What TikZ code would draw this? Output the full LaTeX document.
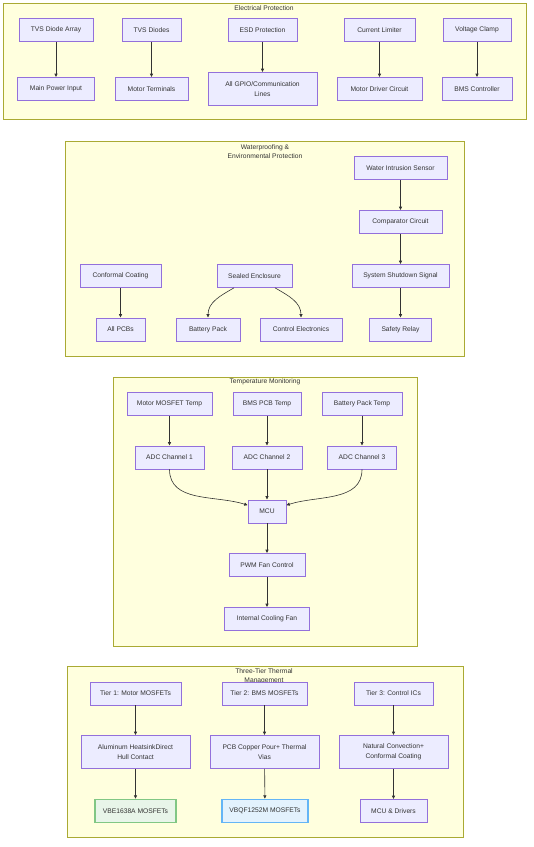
\documentclass[tikz,border=0pt]{standalone}
\usepackage{fontspec}
\setmainfont{Liberation Sans}
\usetikzlibrary{arrows.meta}
\definecolor{nfill}{HTML}{ECECFF}
\definecolor{nline}{HTML}{9370DB}
\definecolor{cfill}{HTML}{FFFFDE}
\definecolor{cline}{HTML}{AAAA33}
\definecolor{ink}{HTML}{333333}
\definecolor{gfill}{HTML}{E8F5E9}
\definecolor{gline}{HTML}{81C784}
\definecolor{bfill}{HTML}{E3F2FD}
\definecolor{bline}{HTML}{64B5F6}
\begin{document}
\begin{tikzpicture}[x=1pt,y=-1pt,
  box/.style={draw=nline, fill=nfill, line width=0.6pt, minimum height=23pt, inner xsep=6pt, inner ysep=4pt, text=ink, font=\fontsize{6.7}{10.3}\selectfont, align=center},
  wide/.style={box, minimum width=109pt, minimum height=33pt},
  grp/.style={draw=cline, fill=cfill, line width=0.6pt},
  ttl/.style={text=ink, font=\fontsize{6.7}{9}\selectfont, align=center, inner sep=0pt},
  arr/.style={draw=ink, line width=0.6pt, -{Latex[length=3.5pt,width=3.5pt]}}]
\useasboundingbox (0,0) rectangle (534,847);
\draw[grp] (3,3) rectangle (526,119);
\node[ttl] (ep0) at (264,8) {Electrical Protection};
\node[box, minimum width=74] (ep1) at (56,30) {TVS Diode Array};
\node[box, minimum width=77] (ep2) at (56,89) {Main Power Input};
\draw[arr] (ep1) -- (ep2);
\node[box, minimum width=59] (ep3) at (151.5,30) {TVS Diodes};
\node[box, minimum width=73] (ep4) at (151.5,89) {Motor Terminals};
\draw[arr] (ep3) -- (ep4);
\node[box, minimum width=69] (ep5) at (262.5,30) {ESD Protection};
\node[wide] (ep6) at (262.5,89) {All GPIO/Communication\\Lines};
\draw[arr] (ep5) -- (ep6);
\node[box, minimum width=71] (ep7) at (379.5,30) {Current Limiter};
\node[box, minimum width=85] (ep8) at (379.5,89) {Motor Driver Circuit};
\draw[arr] (ep7) -- (ep8);
\node[box, minimum width=68] (ep9) at (477,30) {Voltage Clamp};
\node[box, minimum width=70] (ep10) at (477,89) {BMS Controller};
\draw[arr] (ep9) -- (ep10);
\draw[grp] (65,141) rectangle (464,356);
\node[ttl] (wp0) at (265,151.5) {Waterproofing \&\\Environmental Protection};
\node[box, minimum width=93] (wp1) at (400.5,168) {Water Intrusion Sensor};
\node[box, minimum width=83] (wp2) at (400.5,222) {Comparator Circuit};
\node[box, minimum width=97] (wp3) at (400.5,276) {System Shutdown Signal};
\node[box, minimum width=62] (wp4) at (400.5,329.5) {Safety Relay};
\draw[arr] (wp1) -- (wp2);
\draw[arr] (wp2) -- (wp3);
\draw[arr] (wp3) -- (wp4);
\node[box, minimum width=81] (wp5) at (120.5,276) {Conformal Coating};
\node[box, minimum width=49] (wp6) at (120.5,329.5) {All PCBs};
\draw[arr] (wp5) -- (wp6);
\node[box, minimum width=75] (wp7) at (254.5,276) {Sealed Enclosure};
\node[box, minimum width=64] (wp8) at (208,329.5) {Battery Pack};
\node[box, minimum width=82] (wp9) at (301,329.5) {Control Electronics};
\draw[arr] (wp7) to[out=-150, in=90] (wp8);
\draw[arr] (wp7) to[out=-30, in=90] (wp9);
\draw[grp] (113,377) rectangle (417,646);
\node[ttl] (tm0) at (265,382) {Temperature Monitoring};
\node[box, minimum width=85] (tm1) at (169.5,404) {Motor MOSFET Temp};
\node[box, minimum width=68] (tm2) at (267,404) {BMS PCB Temp};
\node[box, minimum width=80] (tm3) at (362,404) {Battery Pack Temp};
\node[box, minimum width=69] (tm4) at (169.5,457.5) {ADC Channel 1};
\node[box, minimum width=70] (tm5) at (267,457.5) {ADC Channel 2};
\node[box, minimum width=69] (tm6) at (362,457.5) {ADC Channel 3};
\draw[arr] (tm1) -- (tm4);
\draw[arr] (tm2) -- (tm5);
\draw[arr] (tm3) -- (tm6);
\node[box, minimum width=38] (tm7) at (267,511.5) {MCU};
\draw[arr] (tm4.south) to[out=-90, in=162] (tm7);
\draw[arr] (tm5) -- (tm7);
\draw[arr] (tm6.south) to[out=-90, in=18] (tm7);
\node[box, minimum width=76] (tm8) at (267,565) {PWM Fan Control};
\node[box, minimum width=85] (tm9) at (267,619) {Internal Cooling Fan};
\draw[arr] (tm7) -- (tm8);
\draw[arr] (tm8) -- (tm9);
\draw[grp] (67,666) rectangle (463,837);
\node[ttl] (tt0) at (264,676.5) {Three-Tier Thermal\\Management};
\node[box, minimum width=91] (tt1) at (135.5,693.5) {Tier 1: Motor MOSFETs};
\node[box, minimum width=85] (tt2) at (264.5,693.5) {Tier 2: BMS MOSFETs};
\node[box, minimum width=79] (tt3) at (393.5,693.5) {Tier 3: Control ICs};
\node[wide] (tt4) at (135.5,752) {Aluminum HeatsinkDirect\\Hull Contact};
\node[wide] (tt5) at (264.5,752) {PCB Copper Pour+ Thermal\\Vias};
\node[wide] (tt6) at (393.5,752) {Natural Convection+\\Conformal Coating};
\draw[arr] (tt1) -- (tt4);
\draw[arr] (tt2) -- (tt5);
\draw[arr] (tt3) -- (tt6);
\node[box, minimum width=81, draw=gline, fill=gfill, line width=1.2pt] (tt7) at (135.5,811) {VBE1638A MOSFETs};
\node[box, minimum width=86, draw=bline, fill=bfill, line width=1.2pt] (tt8) at (265,811) {VBQF1252M MOSFETs};
\node[box, minimum width=67] (tt9) at (393.5,811) {MCU \& Drivers};
\draw[arr] (tt4) -- (tt7);
\draw[arr] (tt5) -- (tt8);
\draw[arr] (tt6) -- (tt9);
\end{tikzpicture}
\end{document}
